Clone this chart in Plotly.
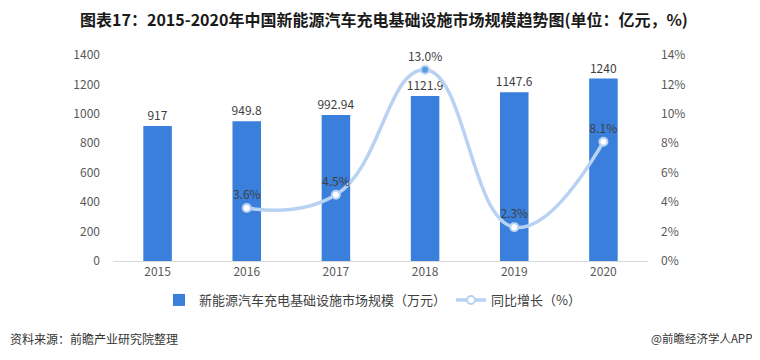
import plotly.graph_objects as go

years = ["2015", "2016", "2017", "2018", "2019", "2020"]
market_size = [917, 949.8, 992.94, 1121.9, 1147.6, 1240]
market_labels = ["917", "949.8", "992.94", "1121.9", "1147.6", "1240"]
growth_years = ["2016", "2017", "2018", "2019", "2020"]
growth = [3.6, 4.5, 13.0, 2.3, 8.1]
growth_labels = ["3.6%", "4.5%", "13.0%", "2.3%", "8.1%"]
left_ticks = [0, 200, 400, 600, 800, 1000, 1200, 1400]
right_ticks = [0, 2, 4, 6, 8, 10, 12, 14]

FONT = "Noto Sans CJK SC, Microsoft YaHei, sans-serif"
BAR_COLOR = "#3a7fdc"
LINE_COLOR = "#b7d2f2"

# figure is drawn inside the page's 8px body margin
W, H = 752, 352
PL, PR, PT, PB = 105, 640, 47, 253  # plot area in figure pixels


def px(x):
    return (x - PL) / (PR - PL)


def py(y):
    return (PB - y) / (PB - PT)


fig = go.Figure()
fig.add_trace(go.Bar(
    x=years, y=market_size, name="新能源汽车充电基础设施市场规模（万元）",
    marker=dict(color=BAR_COLOR, line=dict(width=0)),
    width=0.32,
    text=market_labels, textposition="outside", cliponaxis=False,
    constraintext="none",
    textfont=dict(size=12, color="#404040", family=FONT),
))
fig.add_trace(go.Scatter(
    x=growth_years, y=growth, name="同比增长（%）", yaxis="y2",
    mode="lines+markers+text",
    line=dict(color=LINE_COLOR, width=3.5, shape="spline", smoothing=1.3),
    marker=dict(size=8, color=["white", "white", "#5b9ae0", "white", "white"],
                line=dict(color=LINE_COLOR, width=2)),
    text=growth_labels, textposition="top center", cliponaxis=False,
    textfont=dict(size=12, color="#404040", family=FONT),
))

fig.update_layout(
    width=W, height=H,
    margin=dict(l=PL, r=W - PR, t=PT, b=H - PB),
    paper_bgcolor="white", plot_bgcolor="white",
    font=dict(family=FONT, size=12, color="#595959"),
    title=dict(text="<b>图表17：2015-2020年中国新能源汽车充电基础设施市场规模趋势图(单位：亿元，%)</b>",
               x=0.5, xanchor="center", y=1 - 12 / H, yanchor="middle",
               font=dict(size=16, color="#1a1a1a", family=FONT)),
    xaxis=dict(type="category", showgrid=False, showline=True, linecolor="#d9d9d9",
               linewidth=1, ticks="", tickfont=dict(size=12, color="#595959")),
    yaxis=dict(range=[0, 1400], tickvals=left_ticks, showgrid=False, zeroline=False,
               showline=False, ticks="", tickfont=dict(size=12, color="#595959"),
               ticklabelstandoff=12),
    yaxis2=dict(range=[0, 14], tickvals=right_ticks, ticktext=[f"{v}%" for v in right_ticks],
                overlaying="y", side="right", showgrid=False, zeroline=False,
                showline=False, ticks="", tickfont=dict(size=12, color="#595959"),
                ticklabelstandoff=12),
    legend=dict(orientation="h", x=px(151), xanchor="left", y=py(292), yanchor="middle",
                font=dict(size=13, color="#404040", family=FONT), traceorder="normal",
                itemwidth=30),
    showlegend=True,
)

fig.add_annotation(text="资料来源：前瞻产业研究院整理", xref="paper", yref="paper",
                   x=px(0), y=py(330), xanchor="left", yanchor="middle",
                   showarrow=False, font=dict(size=12, color="#333333", family=FONT))
fig.add_annotation(text="@前瞻经济学人APP", xref="paper", yref="paper",
                   x=px(746), y=py(330), xanchor="right", yanchor="middle",
                   showarrow=False, font=dict(size=11.5, color="#333333", family=FONT))

fig.write_html("out.html")
